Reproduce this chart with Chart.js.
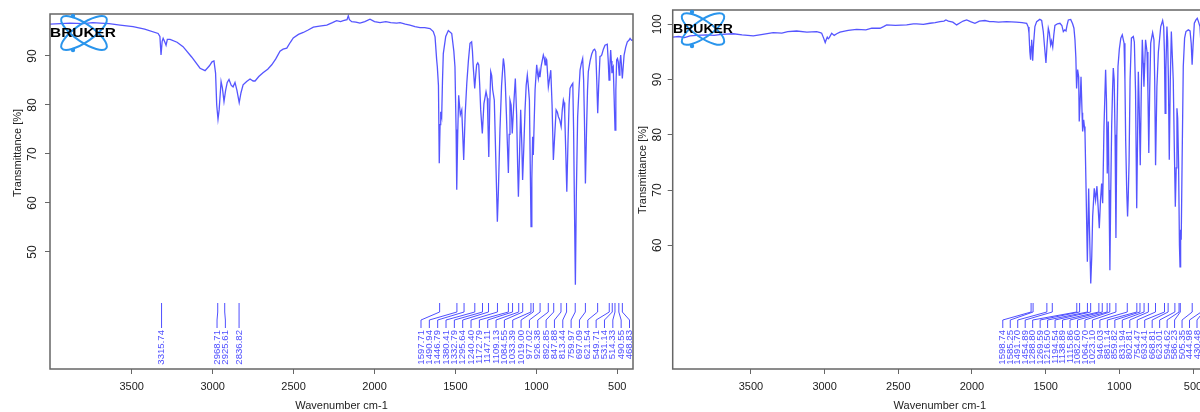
<!DOCTYPE html>
<html><head><meta charset="utf-8">
<script src="https://cdn.jsdelivr.net/npm/chart.js@4.4.1/dist/chart.umd.min.js"></script>
<style>
html,body{margin:0;padding:0;width:1200px;height:412px;overflow:hidden;background:#fff;}
#c1{position:absolute;left:0;top:0;}
#c2{position:absolute;left:634px;top:0;}
</style></head><body>
<canvas id="c1" width="636" height="412"></canvas>
<canvas id="c2" width="586" height="412"></canvas>
<script>
// ---------- DATA ----------
const xTickValues = [3500, 3000, 2500, 2000, 1500, 1000, 500];
const yTicksLeft = [50, 60, 70, 80, 90];
const yTicksRight = [60, 70, 80, 90, 100];
const xTitle = "Wavenumber cm-1";
const yTitle = "Transmittance [%]";
const logoText = "BRUKER";

const leftWavenumbers = [4005,3940,3880,3800,3740,3696,3640,3572,3492,3420,3337,3326,3319,3312,3306,3295,3288,3280,3263,3220,3183,3130,3078,3047,3020,3004,2992,2982,2975,2967,2960,2948,2940,2930,2920,2910,2899,2885,2874,2862,2850,2836,2825,2812,2790,2769,2750,2738,2715,2689,2660,2635,2610,2584,2565,2542,2520,2502,2470,2440,2410,2378,2340,2295,2260,2234,2210,2193,2170,2162,2155,2141,2115,2090,2060,2028,2000,1966,1930,1900,1863,1842,1810,1781,1750,1719,1690,1657,1637,1626,1616,1612,1605,1600,1595,1591,1585,1580,1575,1560,1544,1523,1510,1503,1496,1492,1486,1480,1470,1461,1455,1449,1440,1430,1420,1410,1400,1395,1390,1381,1375,1369,1362,1356,1350,1344,1334,1324,1311,1303,1299,1294,1288,1282,1276,1270,1260,1251,1241,1235,1225,1215,1204,1198,1192,1185,1180,1173,1168,1163,1156,1149,1140,1130,1122,1116,1111,1104,1097,1090,1085,1078,1070,1063,1056,1050,1043,1038,1033,1028,1023,1019,1014,1008,998,993,988,983,978,970,957,951,946,941,936,931,926,918,911,903,895,888,878,870,864,856,847,840,833,829,825,818,812,805,798,792,783,775,770,765,759,753,745,737,730,722,714,708,703,697,690,684,679,668,658,648,640,633,627,621,615,607,601,596,586,576,562,556,551,546,541,537,533,529,525,520,514,509,504,499,494,488,484,479,474,469,463,458,448,438,428,421,412,404];
const leftTransmittance = [96.5,96.6,96.7,96.6,96.8,96.7,96.6,96.3,96.0,95.5,94.6,94.0,90.2,93.0,93.6,92.8,92.2,93.4,93.4,92.8,91.9,89.8,87.5,87.0,88.0,88.8,89.0,86.5,80.0,77.1,79.0,84.8,83.5,80.7,83.0,84.6,85.2,84.0,83.7,84.6,83.0,80.5,82.5,84.1,84.8,85.3,84.9,84.9,85.8,86.6,87.3,88.2,89.4,91.0,91.4,91.6,92.8,93.7,94.4,94.8,95.3,95.9,96.1,96.3,96.8,97.2,97.0,97.2,97.4,98.2,97.4,97.0,96.9,96.7,97.0,97.5,97.0,96.8,97.0,96.8,96.7,96.8,96.5,96.3,96.0,95.8,95.8,95.6,95.0,93.9,89.2,87.8,84.0,68.1,76.0,78.6,77.6,85.0,90.5,94.0,95.2,94.6,91.0,87.8,75.0,62.7,74.0,82.0,78.0,79.0,74.0,68.8,78.0,84.4,89.0,92.6,92.9,91.0,87.8,83.4,86.0,88.2,88.6,88.2,84.0,79.0,74.2,80.3,82.7,81.4,76.0,69.4,80.0,86.8,86.0,83.1,81.0,69.4,56.2,62.0,74.9,84.0,89.5,88.0,84.4,78.0,72.9,66.1,74.0,81.0,80.0,74.2,80.0,85.4,78.0,68.0,61.3,70.0,79.0,72.0,64.7,71.0,79.0,84.0,86.1,84.0,81.0,68.0,55.2,65.0,73.5,69.8,76.0,83.1,88.2,86.5,85.4,86.8,85.7,88.0,90.2,89.5,88.2,89.5,89.2,86.5,83.7,85.5,87.1,80.0,68.8,73.0,79.0,78.5,77.6,77.0,75.6,79.0,81.0,80.5,78.3,70.0,62.3,72.0,80.0,83.4,84.0,84.4,75.0,60.0,43.3,62.0,77.6,83.0,87.1,88.5,89.5,85.0,77.0,64.0,75.0,83.0,86.8,89.0,90.4,91.2,91.4,90.9,85.0,78.3,84.0,89.9,90.0,90.2,91.4,92.2,92.4,89.0,85.1,88.0,91.2,89.0,86.5,87.5,87.8,82.0,74.9,83.0,89.2,89.5,88.8,86.1,88.5,90.2,88.0,85.4,88.0,90.2,91.8,92.9,93.2,93.6,93.2,93.3];

const rightWavenumbers = [4031,3990,3950,3914,3870,3801,3750,3700,3620,3560,3484,3420,3349,3290,3250,3190,3120,3054,3030,3020,3008,2996,2988,2982,2975,2968,2952,2935,2918,2896,2840,2783,2720,2680,2624,2600,2579,2520,2443,2398,2375,2330,2285,2250,2217,2190,2177,2160,2130,2104,2080,2060,2036,2010,1980,1950,1912,1880,1856,1820,1765,1700,1660,1629,1618,1613,1607,1602,1598,1595,1591,1588,1582,1573,1561,1540,1527,1516,1506,1498,1490,1482,1475,1466,1460,1452,1445,1437,1420,1403,1390,1380,1370,1362,1355,1346,1330,1317,1308,1301,1295,1290,1283,1276,1272,1266,1260,1253,1249,1242,1237,1233,1226,1217,1208,1203,1194,1187,1181,1170,1161,1152,1144,1136,1128,1120,1113,1104,1093,1087,1082,1075,1070,1064,1058,1052,1046,1041,1035,1029,1023,1017,1009,1000,990,980,968,962,957,950,944,940,934,927,918,905,898,890,882,876,871,865,858,851,844,838,833,827,822,812,806,800,794,787,774,765,760,754,745,735,719,706,699,694,689,684,677,672,667,661,654,647,640,634,627,620,614,609,604,598,592,588,584,580,574,566,557,548,532,520,512,506,500,491,480,471,463,453,445,440,430,420,405];
const rightTransmittance = [97.7,97.8,97.6,97.9,98.0,98.1,98.0,98.2,98.3,98.1,97.9,98.2,98.5,98.4,98.7,98.8,98.6,98.7,98.5,98.4,97.6,96.7,97.3,97.7,97.4,97.6,98.4,98.0,98.3,98.6,98.9,99.1,99.0,99.3,99.3,99.6,99.9,99.8,99.9,100.1,100.1,100.0,100.2,100.3,100.5,100.6,100.8,100.6,100.4,99.9,100.3,100.6,100.8,100.5,100.2,100.6,100.7,100.5,100.5,100.4,100.5,100.4,100.3,100.2,99.5,98.4,95.0,93.6,96.0,97.2,95.5,93.4,96.5,99.6,100.5,100.9,100.7,98.7,95.5,93.0,96.5,99.3,98.5,96.3,97.0,95.9,98.0,99.8,100.1,100.2,99.8,98.7,99.0,98.8,99.8,100.8,100.9,100.1,99.3,97.2,94.0,88.4,91.8,90.5,82.4,86.0,90.5,84.0,80.6,82.7,81.5,80.3,70.6,57.0,70.3,63.4,53.1,58.0,65.2,70.3,68.2,70.7,67.0,63.1,68.0,71.2,67.6,81.5,91.8,86.0,73.0,82.4,70.0,55.5,70.0,81.5,88.0,92.1,90.0,80.0,61.3,80.0,92.4,95.5,97.5,98.1,96.6,90.0,79.1,70.0,65.2,68.2,75.0,90.0,97.5,97.8,96.8,88.0,66.7,80.0,91.4,85.0,74.5,88.0,97.2,93.0,88.7,93.0,97.2,95.0,88.0,76.7,88.0,96.6,98.5,97.2,90.0,74.5,88.7,95.0,99.6,100.7,99.6,95.0,83.9,92.0,99.6,97.0,90.0,75.5,90.0,98.7,94.0,89.9,78.0,67.0,74.0,84.8,83.0,75.0,60.0,56.1,62.8,61.0,75.0,92.4,97.5,98.7,99.0,98.8,96.5,92.7,96.0,100.2,100.8,101.1,100.5,99.6,96.0,97.5,95.5,98.0,99.0];

const leftPeaks = ["3315.74","2968.71","2925.61","2836.82","1597.71","1490.94","1446.79","1380.41","1332.79","1295.64","1240.40","1172.79","1147.11","1109.13","1084.55","1033.39","1019.00","977.02","926.38","892.85","847.88","813.44","759.97","697.09","621.54","549.71","531.14","514.33","490.55","468.83"];
const rightPeaks = ["1598.74","1585.25","1491.70","1454.89","1288.80","1269.59","1216.50","1194.54","1138.89","1115.86","1082.60","1064.70","1023.10","946.03","881.14","859.82","831.94","802.81","754.47","693.41","668.81","623.01","594.62","586.23","505.35","444.98","430.48"];

// ---------- RENDERING ----------
const FONT = "'Liberation Sans', Arial, Helvetica, sans-serif";
const LINE = 'rgba(55,55,255,0.85)';
const PEAK = 'rgba(70,70,255,0.95)';

function layoutLabels(px, d, minX, maxX) {
  const n = px.length;
  let groups = px.map((p, i) => ({ s: i, n: 1, c: p }));
  const place = g => {
    let c = (px[g.s] + px[g.s + g.n - 1]) / 2;
    const half = (g.n - 1) * d / 2;
    if (c + half > maxX) c = maxX - half;
    if (c - half < minX) c = minX + half;
    g.c = c;
  };
  let changed = true;
  while (changed) {
    changed = false;
    for (let i = 0; i < groups.length - 1; i++) {
      const a = groups[i], b = groups[i + 1];
      const aEnd = a.c + (a.n - 1) * d / 2;
      const bStart = b.c - (b.n - 1) * d / 2;
      if (bStart - aEnd < d - 0.01) {
        const m = { s: a.s, n: a.n + b.n, c: 0 };
        place(m);
        groups.splice(i, 2, m);
        changed = true;
        break;
      }
    }
  }
  const out = new Array(n);
  groups.forEach(g => {
    for (let k = 0; k < g.n; k++) out[g.s + k] = g.c - (g.n - 1) * d / 2 + k * d;
  });
  return out;
}

function makeDeco(cfg) {
  return {
    id: 'deco' + cfg.name,
    afterDraw(chart) {
      const { ctx, chartArea: a, scales: { x, y } } = chart;
      ctx.save();
      // frame
      ctx.strokeStyle = '#666';
      ctx.lineWidth = 1.5;
      ctx.strokeRect(a.left, a.top, a.right - a.left, a.bottom - a.top);
      // rotated y tick labels
      ctx.fillStyle = '#222';
      ctx.font = '12px ' + FONT;
      ctx.textAlign = 'center';
      ctx.textBaseline = 'middle';
      cfg.yTicks.forEach(v => {
        ctx.save();
        ctx.translate(cfg.yLabelX, y.getPixelForValue(v));
        ctx.rotate(-Math.PI / 2);
        ctx.fillText(String(v), 0, 0);
        ctx.restore();
      });
      // y title
      ctx.save();
      ctx.translate(cfg.yTitleX, cfg.yTitleY);
      ctx.rotate(-Math.PI / 2);
      ctx.font = '11px ' + FONT;
      ctx.fillText(yTitle, 0, 0);
      ctx.restore();
      // peak labels
      const items = cfg.peaks.map(s => ({ s, p: x.getPixelForValue(parseFloat(s)) }))
        .sort((u, v) => u.p - v.p);
      const lx = layoutLabels(items.map(i => i.p), cfg.spacing, a.left + 4, a.right - cfg.rightMargin);
      ctx.strokeStyle = PEAK;
      ctx.lineWidth = 1;
      ctx.fillStyle = PEAK;
      ctx.font = '9.6px ' + FONT;
      ctx.textAlign = 'right';
      ctx.textBaseline = 'middle';
      items.forEach((it, i) => {
        ctx.beginPath();
        ctx.moveTo(it.p, 303);
        ctx.lineTo(it.p, 312);
        ctx.lineTo(lx[i], 320);
        ctx.lineTo(lx[i], 328);
        ctx.stroke();
        ctx.save();
        ctx.translate(lx[i], 330);
        ctx.rotate(-Math.PI / 2);
        ctx.fillText(it.s, 0, 0);
        ctx.restore();
      });
      // logo
      const L = cfg.logo;
      ctx.strokeStyle = '#2a95ec';
      ctx.lineWidth = 2;
      [0.6, -0.6].forEach(r => {
        ctx.beginPath();
        ctx.ellipse(L.cx, L.cy, L.rx, L.ry, r, 0, Math.PI * 2);
        ctx.stroke();
      });
      ctx.fillStyle = '#2a95ec';
      [[L.cx - 11, L.cy - 17], [L.cx - 11, L.cy + 17]].forEach(([px, py]) => {
        ctx.beginPath(); ctx.arc(px, py, 2.2, 0, Math.PI * 2); ctx.fill();
      });
      ctx.fillStyle = '#000';
      ctx.font = 'bold 13px ' + FONT;
      ctx.textAlign = 'left';
      ctx.textBaseline = 'middle';
      const w = ctx.measureText(logoText).width;
      ctx.save();
      ctx.translate(L.tx, L.cy);
      ctx.scale(L.tw / w, 1);
      ctx.fillText(logoText, 0, 0);
      ctx.restore();
      ctx.restore();
    }
  };
}

function makeChart(id, wn, tr, xr, yr, pad, axisW, deco) {
  const pts = wn.map((v, i) => ({ x: v, y: tr[i] }));
  return new Chart(document.getElementById(id), {
    type: 'line',
    data: { datasets: [{ data: pts, borderColor: LINE, borderWidth: 1.3, pointRadius: 0, tension: 0, fill: false }] },
    options: {
      responsive: false, animation: false, parsing: false, normalized: true,
      layout: { padding: pad },
      plugins: { legend: { display: false }, tooltip: { enabled: false } },
      scales: {
        x: {
          type: 'linear', reverse: true, min: xr[0], max: xr[1],
          afterBuildTicks: s => { s.ticks = xTickValues.map(v => ({ value: v })); },
          afterFit: s => { s.height = 43; },
          ticks: { color: '#222', font: { family: FONT, size: 11 }, padding: 6, maxRotation: 0, autoSkip: false, callback: v => String(v) },
          grid: { drawOnChartArea: false, drawTicks: true, tickLength: 5, color: '#666' },
          border: { display: false },
          title: { display: true, text: xTitle, color: '#222', font: { family: FONT, size: 11, lineHeight: 1 }, padding: { top: 0, bottom: 1 } }
        },
        y: {
          type: 'linear', min: yr[0], max: yr[1],
          afterBuildTicks: s => { s.ticks = deco.yTicks.map(v => ({ value: v })); },
          afterFit: s => { s.width = axisW; },
          ticks: { display: false },
          grid: { drawOnChartArea: false, drawTicks: true, tickLength: 5, color: '#666' },
          border: { display: false }
        }
      }
    },
    plugins: [makeDeco(deco)]
  });
}

makeChart('c1', leftWavenumbers, leftTransmittance, [403, 4005], [26.12, 98.57],
  { left: 0, right: 3, top: 14, bottom: 0 }, 50,
  { name: 'L', yTicks: yTicksLeft, yLabelX: 33, yTitleX: 18, yTitleY: 153, peaks: leftPeaks, spacing: 8.34, rightMargin: 3.5,
    logo: { cx: 84, cy: 33, rx: 27, ry: 9, tx: 50, tw: 66 } });

makeChart('c2', rightWavenumbers, rightTransmittance, [405, 4031], [37.6, 102.6],
  { left: 0, right: 13, top: 10, bottom: 0 }, 38.7,
  { name: 'R', yTicks: yTicksRight, yLabelX: 24, yTitleX: 9, yTitleY: 170, peaks: rightPeaks, spacing: 7.47, rightMargin: 10,
    logo: { cx: 69, cy: 29, rx: 25, ry: 8.5, tx: 39, tw: 60 } });
</script>
</body></html>
